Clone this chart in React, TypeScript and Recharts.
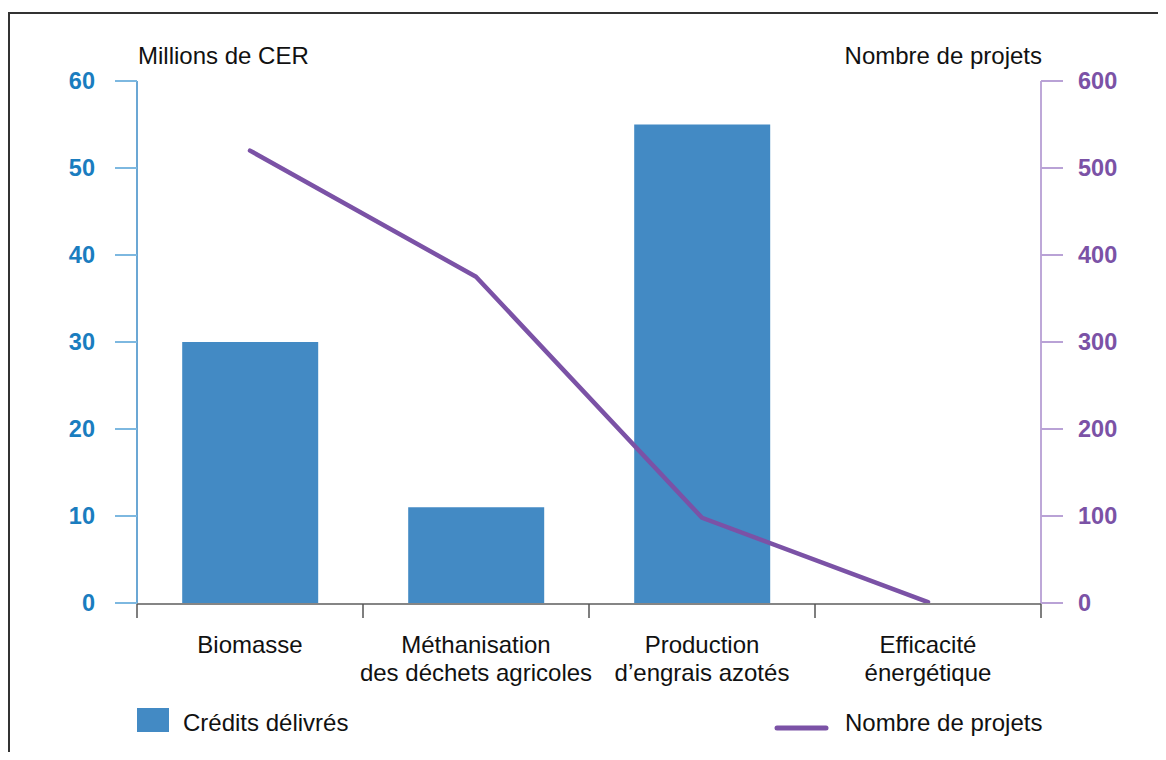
import React from "react";
import { ComposedChart, Bar, Line, XAxis, YAxis } from "recharts";

const categories = ["Biomasse", "Méthanisation\ndes déchets agricoles", "Production\nd’engrais azotés", "Efficacité\nénergétique"];
const credits = [30, 11, 55, 0];
const projects = [520, 375, 98, 1];
const leftTicks = [0, 10, 20, 30, 40, 50, 60];
const rightTicks = [0, 100, 200, 300, 400, 500, 600];
const edgeTicks = [0, 1, 2, 3, 4];

// slot = middle of each category band on the numeric "edges" axis
const data = categories.map((name, i) => ({ name, slot: i + 0.5, credits: credits[i], projects: projects[i] }));

const FONT = '"Liberation Sans", Arial, sans-serif';
const BLUE = "#438ac4";
const PURPLE = "#7b52a6";
const TEXT_SIZE = 24;

function CategoryTick(props: any) {
  const { x, y, payload } = props;
  const lines = String(payload.value).split("\n");
  return (
    <text x={x} y={y + 50} textAnchor="middle" fill="#111" fontSize={TEXT_SIZE}>
      {lines.map((l, i) => (
        <tspan key={i} x={x} dy={i === 0 ? 0 : 28}>
          {l}
        </tspan>
      ))}
    </text>
  );
}

// empty label so only the tick marks at the category edges show
const NoLabel = () => <g />;

export default function App() {
  return (
    <div style={{ position: "relative", width: 1158, height: 744, overflow: "hidden", fontFamily: FONT }}>
      <div style={{ position: "absolute", left: 0, top: 4, right: -10, bottom: -10, borderTop: "2px solid #333", borderLeft: "2px solid #333" }} />
      <ComposedChart width={1158} height={744} data={data} margin={{ top: 73, right: 0, bottom: 134, left: 0 }} barCategoryGap="20%">
        <XAxis
          xAxisId="cat"
          dataKey="name"
          height={1}
          axisLine={false}
          tickLine={false}
          tickSize={0}
          tickMargin={0}
          interval={0}
          tick={<CategoryTick />}
        />
        <XAxis
          xAxisId="edges"
          dataKey="slot"
          type="number"
          domain={[0, 4]}
          ticks={edgeTicks}
          interval={0}
          tick={<NoLabel />}
          tickSize={14}
          height={14}
          axisLine={{ stroke: "#858585", strokeWidth: 2 }}
          tickLine={{ stroke: "#555", strokeWidth: 1.5 }}
        />
        <YAxis
          yAxisId="left"
          orientation="left"
          width={129}
          domain={[0, 60]}
          ticks={leftTicks}
          tickSize={22}
          tickMargin={20}
          axisLine={{ stroke: "#3a8ac6", strokeWidth: 1.5 }}
          tickLine={{ stroke: "#7db8e0", strokeWidth: 2 }}
          tick={{ fill: "#1a7dbf", fontSize: 23.5, fontWeight: "bold" }}
        />
        <YAxis
          yAxisId="right"
          orientation="right"
          width={125}
          domain={[0, 600]}
          ticks={rightTicks}
          tickSize={22}
          tickMargin={15}
          axisLine={{ stroke: "#a98bcb", strokeWidth: 1.5 }}
          tickLine={{ stroke: "#b9a2d6", strokeWidth: 2 }}
          tick={{ fill: PURPLE, fontSize: 23.5, fontWeight: "bold" }}
        />
        <Bar xAxisId="cat" yAxisId="left" dataKey="credits" fill={BLUE} isAnimationActive={false} />
        <Line
          xAxisId="cat"
          yAxisId="right"
          dataKey="projects"
          type="linear"
          stroke={PURPLE}
          strokeWidth={4.5}
          strokeLinecap="round"
          strokeLinejoin="round"
          dot={false}
          activeDot={false}
          isAnimationActive={false}
        />
      </ComposedChart>
      <svg width={1158} height={744} style={{ position: "absolute", left: 0, top: 0, pointerEvents: "none" }}>
        <text x={130} y={56} fontSize={TEXT_SIZE} fill="#111">Millions de CER</text>
        <text x={1034} y={56} fontSize={TEXT_SIZE} fill="#111" textAnchor="end">Nombre de projets</text>
        <rect x={129} y={700} width={32} height={24} fill={BLUE} />
        <text x={175} y={723} fontSize={TEXT_SIZE} fill="#111">Crédits délivrés</text>
        <line x1={769} x2={818} y1={720} y2={720} stroke={PURPLE} strokeWidth={5} strokeLinecap="round" />
        <text x={837} y={723} fontSize={TEXT_SIZE} fill="#111">Nombre de projets</text>
      </svg>
    </div>
  );
}
